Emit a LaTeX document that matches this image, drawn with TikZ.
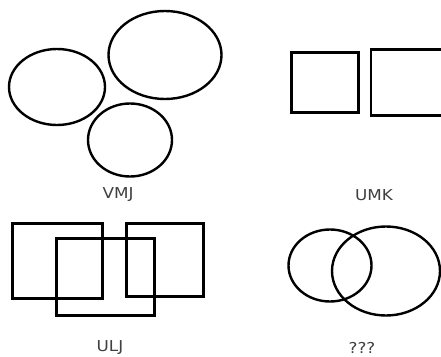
\documentclass[tikz,border=0pt]{standalone}
\usepackage{fontspec}
\setmainfont{DejaVu Sans}
\usetikzlibrary{shapes.geometric}
\begin{document}
\begin{tikzpicture}[x=1pt,y=-1pt,
  shp/.style={draw=black,line width=2.4pt,inner sep=0pt,outer sep=0pt},
  ell/.style={shp,ellipse},
  box/.style={shp,rectangle},
  lbl/.style={text=black!75,font=\fontsize{15}{15}\selectfont,inner sep=0pt,xscale=1.12}]
\useasboundingbox[fill=white] (0,0) rectangle (441,356);
% VMJ
\node[ell,minimum width=96pt,minimum height=76pt] (e1) at (57,87) {};
\node[ell,minimum width=113pt,minimum height=88pt] (e2) at (165,55) {};
\node[ell,minimum width=84pt,minimum height=73pt] (e3) at (130,140) {};
\node[lbl] (l1) at (118,195) {VMJ};
% UMK
\node[box,minimum width=67pt,minimum height=60pt] (r1) at (325,82.5) {};
\node[box,minimum width=76pt,minimum height=66pt] (r2) at (409,82.5) {};
\node[lbl] (l2) at (374,195) {UMK};
% ULJ
\node[box,minimum width=90pt,minimum height=75pt] (q1) at (57.5,261) {};
\node[box,minimum width=98pt,minimum height=77pt] (q2) at (105.5,277) {};
\node[box,minimum width=77pt,minimum height=73pt] (q3) at (165,260) {};
\node[lbl] (l3) at (110,348) {ULJ};
% ???
\node[ell,minimum width=83pt,minimum height=72pt] (c1) at (330,265.5) {};
\node[ell,minimum width=108pt,minimum height=89pt] (c2) at (386,271) {};
\node[lbl] (l4) at (362,348) {???};
\end{tikzpicture}
\end{document}
